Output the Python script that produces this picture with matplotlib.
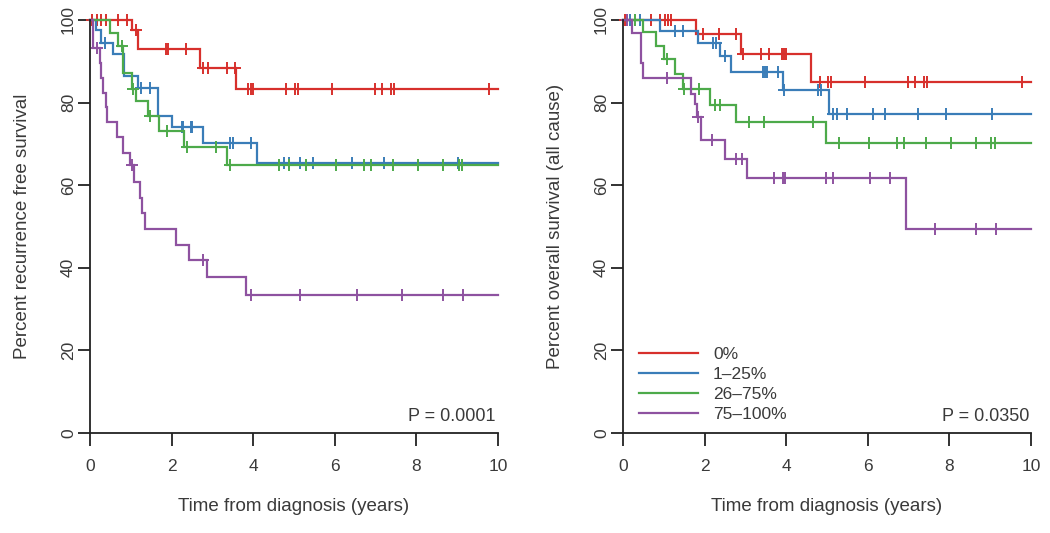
import numpy as np
import matplotlib
matplotlib.use("Agg")
import matplotlib.pyplot as plt

plt.rcParams['font.family'] = ['Liberation Sans', 'DejaVu Sans']

groups = ["0%", "1\u201325%", "26\u201375%", "75\u2013100%"]
colors = ["#D7302C", "#3A7DB8", "#4DAA4A", "#8E52A0"]

# ---- Left panel: recurrence free survival ----
red_L_t = [1.04, 1.17, 2.70, 3.59]
red_L_s = [97.5, 92.9, 88.4, 83.4]
red_L_c = [0.05, 0.16, 0.28, 0.40, 0.68, 0.90, 1.12, 1.86, 1.92, 2.35, 2.76, 2.90, 3.35, 3.56,
           3.88, 3.94, 4.00, 4.80, 5.02, 5.11, 5.92, 6.99, 7.15, 7.37, 7.45, 9.79]
blue_L_t = [0.15, 0.28, 0.57, 0.83, 1.18, 1.67, 2.02, 2.78, 4.10]
blue_L_s = [97.5, 94.5, 91.8, 86.4, 83.5, 76.8, 74.2, 70.3, 65.3]
blue_L_c = [0.37, 1.25, 1.47, 2.25, 2.29, 2.48, 2.51, 3.43, 3.51, 3.94,
            4.75, 4.87, 5.15, 5.47, 6.42, 7.21, 9.02]
green_L_t = [0.49, 0.69, 0.82, 1.02, 1.12, 1.43, 1.69, 2.31, 3.35]
green_L_s = [96.9, 93.7, 87.2, 83.4, 80.3, 76.8, 73.1, 69.3, 64.8]
green_L_c = [0.78, 1.06, 1.47, 1.88, 2.37, 3.09, 3.43, 4.64, 4.88, 5.29, 6.03, 6.72,
             6.89, 7.42, 8.03, 8.66, 9.04, 9.11]
purple_L_t = [0.08, 0.24, 0.28, 0.33, 0.38, 0.42, 0.65, 0.82, 0.98, 1.08, 1.23, 1.27,
              1.36, 2.12, 2.43, 2.86, 3.82]
purple_L_s = [93.1, 89.5, 86.0, 82.4, 78.9, 75.3, 71.6, 67.8, 64.8, 60.8, 57.0, 53.2,
              49.4, 45.6, 41.8, 37.8, 33.5]
purple_L_c = [0.16, 1.03, 2.76, 3.94, 5.15, 6.54, 7.64, 8.66, 9.13]

# ---- Right panel: overall survival ----
red_R_t = [1.80, 2.90, 4.60]
red_R_s = [96.5, 91.8, 84.9]
red_R_c = [0.05, 0.68, 0.91, 1.03, 1.10, 1.17, 1.95, 2.35, 2.78, 2.93, 3.38, 3.58, 3.90,
           3.95, 4.00, 4.82, 5.03, 5.11, 5.94, 6.99, 7.15, 7.38, 7.44, 9.78]
blue_R_t = [0.90, 1.85, 2.38, 2.64, 3.91, 5.04]
blue_R_s = [97.4, 94.5, 91.3, 87.5, 83.0, 77.3]
blue_R_c = [0.17, 0.42, 1.27, 1.47, 2.21, 2.28, 2.50, 3.42, 3.48, 3.53, 3.80, 3.94, 4.77,
            4.86, 5.14, 5.24, 5.49, 6.13, 6.43, 7.22, 7.92, 9.04]
green_R_t = [0.50, 0.81, 1.00, 1.27, 1.46, 2.13, 2.77, 4.97]
green_R_s = [97.2, 93.6, 90.5, 86.9, 83.3, 79.4, 75.3, 70.3]
green_R_c = [0.29, 1.07, 1.50, 1.87, 2.25, 2.37, 3.09, 3.45, 4.65, 5.30, 6.03, 6.72, 6.88,
             7.42, 8.03, 8.65, 9.03, 9.11]
purple_R_t = [0.21, 0.43, 0.50, 1.67, 1.77, 1.82, 1.92, 2.49, 3.04, 6.94]
purple_R_s = [96.9, 89.6, 85.9, 82.1, 79.7, 76.5, 70.9, 66.4, 61.8, 49.4]
purple_R_c = [0.09, 1.07, 1.84, 2.19, 2.78, 2.91, 3.71, 3.92, 3.96, 4.97, 5.14, 6.05,
              6.54, 7.65, 8.66, 9.14]

x_ticks = [0, 2, 4, 6, 8, 10]
y_ticks = [0, 20, 40, 60, 80, 100]
x_max = 10

left_curves = [(red_L_t, red_L_s, red_L_c), (blue_L_t, blue_L_s, blue_L_c),
               (green_L_t, green_L_s, green_L_c), (purple_L_t, purple_L_s, purple_L_c)]
right_curves = [(red_R_t, red_R_s, red_R_c), (blue_R_t, blue_R_s, blue_R_c),
                (green_R_t, green_R_s, green_R_c), (purple_R_t, purple_R_s, purple_R_c)]

text_col = "#3a3a3a"
axis_col = "#222222"

fig = plt.figure(figsize=(10.5, 5.33), dpi=100)
ax1 = fig.add_axes([90/1050, 100/533, 408/1050, 413/533])
ax2 = fig.add_axes([623/1050, 100/533, 408/1050, 413/533])


def draw(ax, curves, ylabel, ptext, legend=False):
    handles = []
    for (t, s, c), col, lab in zip(curves, colors, groups):
        xs = [0] + list(t) + [x_max]
        ys = [100] + list(s) + [s[-1]]
        h, = ax.step(xs, ys, where='post', color=col, lw=1.6, clip_on=False,
                     solid_joinstyle='miter', label=lab)
        handles.append(h)
        tt = np.array(t)
        cs = np.array(c)
        idx = np.searchsorted(tt, cs, side='right')
        lev = np.array([100] + list(s))[idx]
        ax.plot(cs, lev, linestyle='none', marker='+', ms=8, mew=1.4, color=col,
                clip_on=False)
    ax.set_xlim(0, 10)
    ax.set_ylim(0, 100)
    ax.set_xticks(x_ticks)
    ax.set_yticks(y_ticks)
    for sp in ['top', 'right']:
        ax.spines[sp].set_visible(False)
    for sp in ['left', 'bottom']:
        ax.spines[sp].set_color(axis_col)
        ax.spines[sp].set_linewidth(1.3)
    ax.tick_params(length=9, width=1.3, color=axis_col, labelsize=12.5,
                   labelcolor=text_col)
    ax.tick_params(axis='x', pad=10)
    ax.tick_params(axis='y', pad=1)
    for lbl in ax.get_yticklabels():
        lbl.set_rotation(90)
        lbl.set_va('center')
    ax.set_xlabel("Time from diagnosis (years)", fontsize=13.5, color=text_col, labelpad=17)
    ax.set_ylabel(ylabel, fontsize=13.5, color=text_col, labelpad=22)
    ax.text(0.995, 0.04, ptext, transform=ax.transAxes, ha='right', va='center',
            fontsize=13, color=text_col)
    if legend:
        ax.legend(handles=handles, loc='lower left', bbox_to_anchor=(0.012, 0.0),
                  frameon=False, fontsize=12.5, handlelength=3.4, handletextpad=0.85,
                  labelspacing=0.28, borderaxespad=0.25, labelcolor=text_col)


draw(ax1, left_curves, "Percent recurrence free survival", "P = 0.0001")
draw(ax2, right_curves, "Percent overall survival (all cause)", "P = 0.0350", legend=True)

fig.savefig("out.png", dpi=100)
